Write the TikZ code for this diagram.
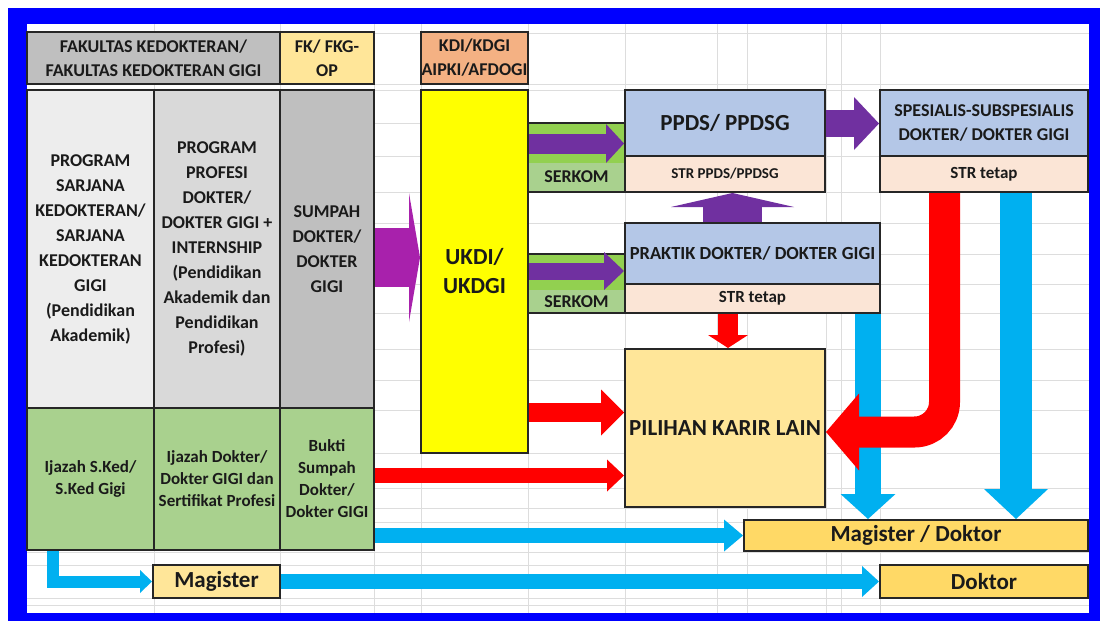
\documentclass[tikz,border=0pt]{standalone}
\usepackage{fontspec}
\setmainfont{Carlito}
\usetikzlibrary{arrows.meta}

\definecolor{frameblue}{HTML}{0000FF}
\definecolor{linegray}{HTML}{262626}
\definecolor{textgray}{HTML}{1A1A1A}
\definecolor{gridgray}{HTML}{DDDDDD}
\definecolor{palegray}{HTML}{EDEDED}
\definecolor{midgray}{HTML}{D9D9D9}
\definecolor{darkgray}{HTML}{BFBFBF}
\definecolor{sagegreen}{HTML}{A9D18E}
\definecolor{limegreen}{HTML}{92D050}
\definecolor{ukdiyellow}{HTML}{FFFF00}
\definecolor{peach}{HTML}{FBE5D6}
\definecolor{paleblue}{HTML}{B4C7E7}
\definecolor{lightgold}{HTML}{FFE699}
\definecolor{gold}{HTML}{FFD966}
\definecolor{salmon}{HTML}{F4B183}
\definecolor{violet}{HTML}{7030A0}
\definecolor{magenta}{HTML}{A821AC}
\definecolor{alarmred}{HTML}{FF0000}
\definecolor{skyblue}{HTML}{00B0F0}

\tikzset{
  cell/.style={draw=linegray, line width=2pt, inner sep=0pt, align=center, text=textgray,
    font=\bfseries\fontsize{18}{25}\selectfont},
  small/.style={font=\bfseries\fontsize{17}{22}\selectfont},
  large/.style={font=\bfseries\fontsize{23}{29}\selectfont},
  gridline/.style={draw=gridgray, line width=0.8pt},
  fatarrow/.style n args={3}{line width=#1, -{Triangle[length=#2, width=#3, line width=0pt]}},
}

\begin{document}
\begin{tikzpicture}[x=1pt, y=-1pt]
    \useasboundingbox (0,0) rectangle (1100,621);

    % Blue frame
    \fill[frameblue] (8,8) rectangle (1100,621);
    \fill[white] (27,24) rectangle (1089,613);

    % Spreadsheet grid
    \draw[gridline] (154,24) -- (154,613) (280,24) -- (280,613) (374,24) -- (374,613)
        (421,24) -- (421,613) (528,24) -- (528,613) (625,24) -- (625,613)
        (717,24) -- (717,613) (747,24) -- (747,613) (826,24) -- (826,613)
        (841,24) -- (841,613) (880,24) -- (880,613);
    \draw[gridline] (27,33) -- (1089,33) (27,84) -- (1089,84) (27,90) -- (1089,90)
        (27,123) -- (1089,123) (27,156) -- (1089,156) (27,192) -- (1089,192)
        (27,223) -- (1089,223) (27,254) -- (1089,254) (27,284) -- (1089,284)
        (27,313) -- (1089,313) (27,349) -- (1089,349) (27,380) -- (1089,380)
        (27,410) -- (1089,410) (27,453) -- (1089,453) (27,488) -- (1089,488)
        (27,508) -- (1089,508) (27,522) -- (1089,522) (27,552) -- (1089,552)
        (27,565) -- (1089,565) (27,598) -- (1089,598) (27,605) -- (1089,605);

    % Header row
    \node[cell, fill=darkgray, minimum width=253, minimum height=52] (fakultas) at (153.5,58)
        {FAKULTAS KEDOKTERAN/\\[-1pt]FAKULTAS KEDOKTERAN GIGI};
    \node[cell, fill=lightgold, minimum width=94, minimum height=52] (fkop) at (327,58)
        {FK/ FKG-\\[-1pt]OP};
    \node[cell, fill=salmon, minimum width=107, minimum height=52] (kdi) at (474.5,58)
        {KDI/KDGI\\[-1pt]AIPKI/AFDOGI};

    % Education columns
    \node[cell, fill=palegray, minimum width=127, minimum height=318] (sarjana) at (90.5,249)
        {PROGRAM\\SARJANA\\KEDOKTERAN/\\SARJANA\\KEDOKTERAN\\GIGI\\(Pendidikan\\Akademik)};
    \node[cell, fill=midgray, minimum width=126, minimum height=318] (profesi) at (217,249)
        {PROGRAM\\PROFESI\\DOKTER/\\DOKTER GIGI +\\INTERNSHIP\\(Pendidikan\\Akademik dan\\Pendidikan\\Profesi)};
    \node[cell, fill=darkgray, minimum width=94, minimum height=318] (sumpah) at (327,249)
        {SUMPAH\\DOKTER/\\DOKTER\\GIGI};

    % Certificates
    \node[cell, small, fill=sagegreen, minimum width=127, minimum height=142] (ijazahsked) at (90.5,479)
        {Ijazah S.Ked/\\S.Ked Gigi};
    \node[cell, small, fill=sagegreen, minimum width=126, minimum height=142] (ijazahdokter) at (217,479)
        {Ijazah Dokter/\\Dokter GIGI dan\\Sertifikat Profesi};
    \node[cell, small, fill=sagegreen, minimum width=94, minimum height=142] (bukti) at (327,479)
        {Bukti\\Sumpah\\Dokter/\\Dokter GIGI};

    % Competency exam
    \node[cell, large, fill=ukdiyellow, minimum width=107, minimum height=363] (ukdi) at (474.5,271.5)
        {UKDI/\\UKDGI};

    % SERKOM boxes
    \node[cell, fill=sagegreen, minimum width=97, minimum height=69,
        path picture={\fill[limegreen] (path picture bounding box.north west)
            rectangle ([yshift=-40pt]path picture bounding box.north east);}] (serkomppds) at (576.5,157.5) {};
    \node[cell, draw=none, fill=none] (serkomppdstext) at (576.5,177) {SERKOM};
    \node[cell, fill=sagegreen, minimum width=97, minimum height=59,
        path picture={\fill[limegreen] (path picture bounding box.north west)
            rectangle ([yshift=-36pt]path picture bounding box.north east);}] (serkompraktik) at (576.5,283.5) {};
    \node[cell, draw=none, fill=none] (serkompraktiktext) at (576.5,302) {SERKOM};

    % Practice and specialisation
    \node[cell, fill=paleblue, minimum width=200, minimum height=66, font=\bfseries\fontsize{23}{29}\selectfont] (ppds) at (725,123)
        {PPDS/ PPDSG};
    \node[cell, fill=peach, minimum width=200, minimum height=36, font=\bfseries\fontsize{15}{20}\selectfont] (strppds) at (725,174)
        {STR PPDS/PPDSG};
    \node[cell, fill=paleblue, minimum width=208, minimum height=66, font=\bfseries\fontsize{18}{24}\selectfont] (spesialis) at (984,123)
        {SPESIALIS-SUBSPESIALIS\\DOKTER/ DOKTER GIGI};
    \node[cell, fill=peach, minimum width=208, minimum height=36, font=\bfseries\fontsize{17}{22}\selectfont] (strspesialis) at (984,174)
        {STR tetap};
    \node[cell, fill=paleblue, minimum width=255, minimum height=61, font=\bfseries\fontsize{18.5}{24}\selectfont] (praktik) at (752.5,253.5)
        {PRAKTIK DOKTER/ DOKTER GIGI};
    \node[cell, fill=peach, minimum width=255, minimum height=29, font=\bfseries\fontsize{17}{22}\selectfont] (strpraktik) at (752.5,298.5)
        {STR tetap};

    % Other careers and further study
    \node[cell, large, fill=lightgold, minimum width=200, minimum height=158] (pilihan) at (725,428)
        {PILIHAN KARIR LAIN};
    \node[cell, large, fill=gold, minimum width=344, minimum height=31] (magdok) at (916,535.5)
        {Magister / Doktor};
    \node[cell, large, fill=lightgold, minimum width=127, minimum height=33] (magister) at (216.5,581.5)
        {Magister};
    \node[cell, large, fill=gold, minimum width=208, minimum height=33] (doktor) at (984,581.5)
        {Doktor};

    % Blue arrows
    \draw[skyblue, fatarrow={26pt}{25pt}{55pt}] (strpraktik.south -| 868,0) -- (magdok.north -| 868,0);
    \draw[skyblue, fatarrow={32pt}{30pt}{64pt}] (strspesialis.south -| 1016,0) -- (magdok.north -| 1016,0);
    \draw[skyblue, fatarrow={15pt}{19pt}{32pt}] (bukti.east |- 0,535.5) -- (magdok.west |- 0,535.5);
    \draw[skyblue, fatarrow={12pt}{12pt}{23pt}] (ijazahsked.south -| 52.5,0) |- (magister.west);
    \draw[skyblue, fatarrow={15pt}{17pt}{31pt}] (magister.east) -- (doktor.west);

    % Red arrows
    \draw[alarmred, fatarrow={20pt}{13pt}{40pt}] (strpraktik.south -| 728,0) -- (pilihan.north -| 728,0);
    \draw[alarmred, fatarrow={19pt}{23pt}{46pt}] (ukdi.east |- 0,412.5) -- (pilihan.west |- 0,412.5);
    \draw[alarmred, fatarrow={15pt}{17pt}{32pt}] (bukti.east |- 0,475.5) -- (pilihan.west |- 0,475.5);
    \draw[alarmred, fatarrow={31pt}{33pt}{77pt}, rounded corners=30pt]
        (strspesialis.south -| 944.5,0) |- (pilihan.east |- 0,432);

    % Purple arrows
    \draw[magenta, fatarrow={59pt}{11pt}{129pt}] (sumpah.east |- 0,257.5) -- (ukdi.west |- 0,257.5);
    \draw[violet, fatarrow={20pt}{18pt}{39pt}] (ukdi.east |- 0,143.5) -- (ppds.west |- 0,143.5);
    \draw[violet, fatarrow={17pt}{20pt}{38pt}] (ukdi.east |- 0,271) -- (praktik.west |- 0,271);
    \draw[violet, fatarrow={27pt}{25pt}{53pt}] (ppds.east |- 0,123.5) -- (spesialis.west |- 0,123.5);
    \draw[violet, fatarrow={59pt}{14pt}{123pt}] (praktik.north -| 732.5,0) -- (strppds.south -| 732.5,0);
\end{tikzpicture}
\end{document}
